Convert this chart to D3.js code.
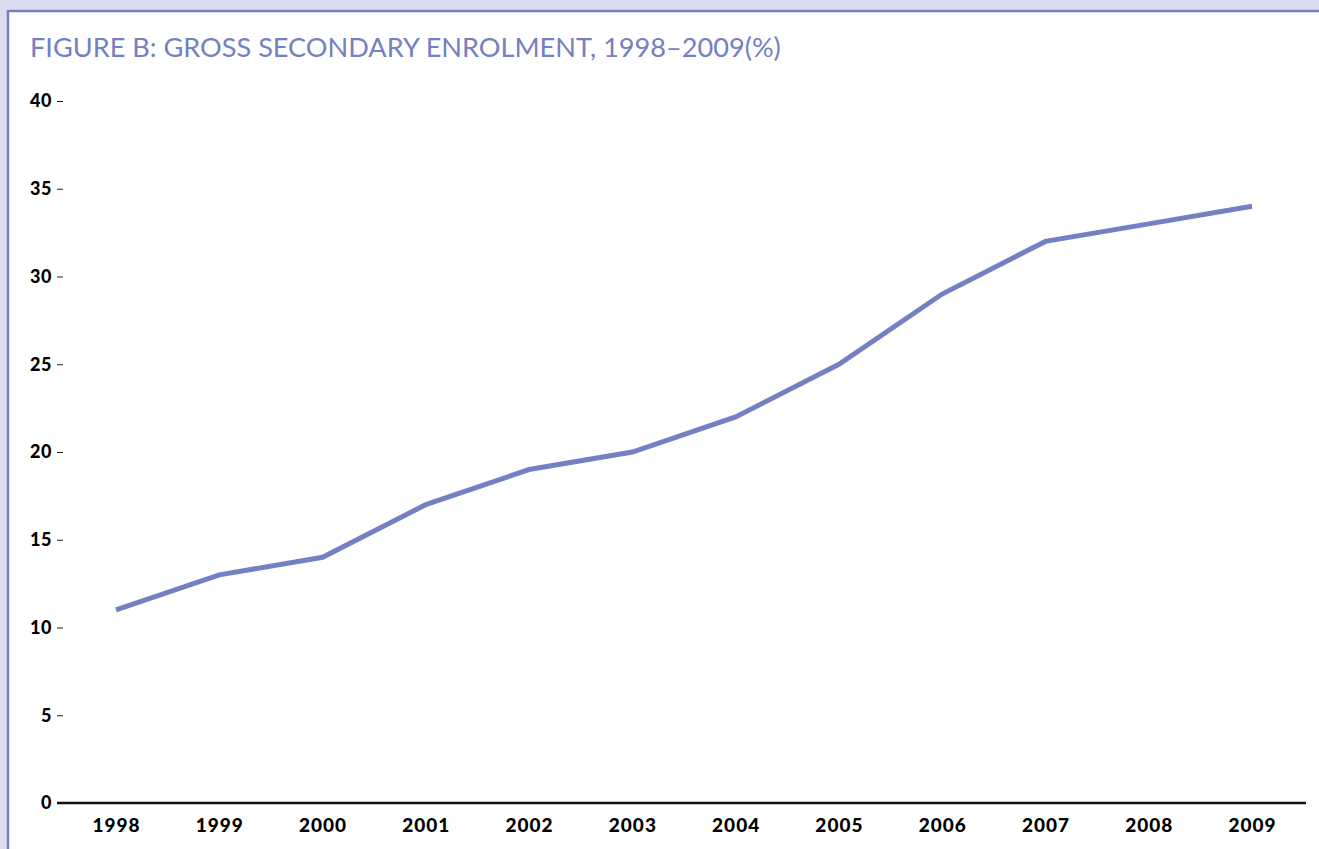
<!DOCTYPE html>
<html>
<head>
<meta charset="utf-8">
<script src="https://cdn.jsdelivr.net/npm/d3@7"></script>
<style>
  html, body { margin: 0; padding: 0; background: #dcdcef; }
  svg { display: block; }
</style>
</head>
<body>
<svg id="chart"></svg>
<script>
const years = ['1998', '1999', '2000', '2001', '2002', '2003', '2004', '2005', '2006', '2007', '2008', '2009'];
const enrolment = [11, 13, 14, 17, 19, 20, 22, 25, 29, 32, 33, 34];
const yTicks = [0, 5, 10, 15, 20, 25, 30, 35, 40];
const title = 'FIGURE B: GROSS SECONDARY ENROLMENT, 1998\u20132009(%)';

const width = 1319;
const height = 849;
const lineColor = '#7480c2';

const svg = d3.select('#chart')
    .attr('width', width)
    .attr('height', height);

// light lavender surround, white panel with a blue frame
svg.append('rect')
    .attr('x', 0).attr('y', 0)
    .attr('width', width).attr('height', height)
    .attr('fill', '#dcdcef');

svg.append('rect')
    .attr('x', 8).attr('y', 11)
    .attr('width', width + 10).attr('height', height + 10)
    .attr('fill', '#fff')
    .attr('stroke', lineColor)
    .attr('stroke-width', 2.5);

const titleText = svg.append('text')
    .attr('x', 30)
    .attr('y', 57)
    .attr('fill', lineColor)
    .style('font-family', 'Lato, "Open Sans", sans-serif')
    .style('font-size', '26px')
    .text(title);

// fit the title to the width it has in the original
const tw = titleText.node().getComputedTextLength();
titleText.style('font-size', (26 * 751 / tw) + 'px');

const x = d3.scalePoint()
    .domain(years)
    .range([116, 1252]);

const y = d3.scaleLinear()
    .domain([0, 40])
    .range([803, 101]);

// y axis: labels with short dashes, no domain line
const gy = svg.append('g')
    .attr('transform', 'translate(63, 0)')
    .call(d3.axisLeft(y).tickValues(yTicks).tickSize(6).tickPadding(5));

gy.select('.domain').remove();
gy.selectAll('.tick line')
    .attr('stroke', '#222')
    .attr('stroke-width', 1);
gy.selectAll('.tick text')
    .attr('fill', '#000')
    .style('font-family', 'Lato, sans-serif')
    .style('font-weight', '900')
    .style('font-size', '18px')
    .style('letter-spacing', '0.5px');
// the zero tick has no dash, the baseline runs into it
gy.selectAll('.tick').filter(d => d === 0).select('line').remove();

// x axis
const gx = svg.append('g')
    .attr('transform', `translate(0, ${y(0)})`)
    .call(d3.axisBottom(x).tickSize(0).tickPadding(16));

gx.select('.domain').remove();
gx.selectAll('.tick text')
    .attr('fill', '#000')
    .style('font-family', 'Lato, sans-serif')
    .style('font-weight', '900')
    .style('font-size', '19px')
    .style('letter-spacing', '1px');

svg.append('line')
    .attr('x1', 57).attr('x2', 1306)
    .attr('y1', y(0)).attr('y2', y(0))
    .attr('stroke', '#111')
    .attr('stroke-width', 2.5);

const line = d3.line()
    .x((d, i) => x(years[i]))
    .y(d => y(d));

svg.append('path')
    .datum(enrolment)
    .attr('d', line)
    .attr('fill', 'none')
    .attr('stroke', lineColor)
    .attr('stroke-width', 5);
</script>
</body>
</html>
